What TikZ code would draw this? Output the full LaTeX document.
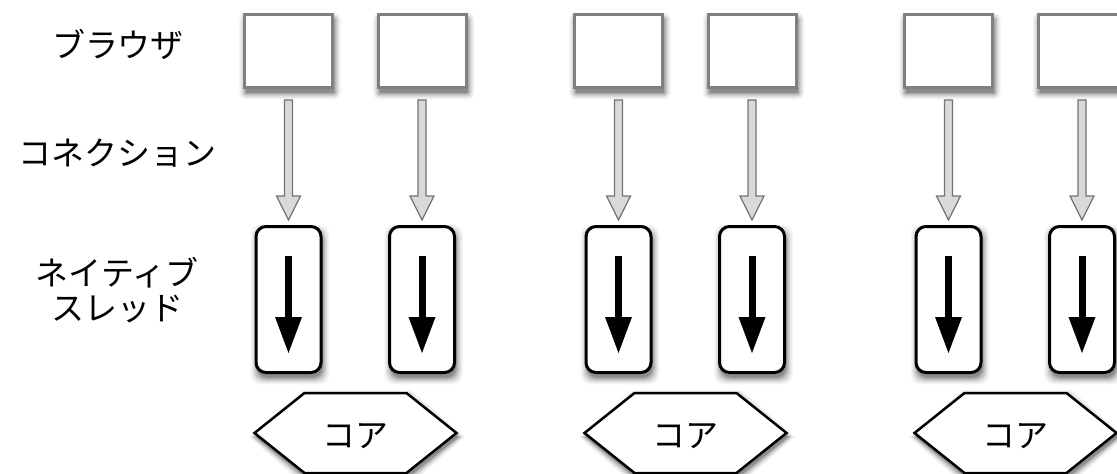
\documentclass[tikz,border=0pt]{standalone}
\usepackage{fontspec}
\setmainfont{Noto Sans CJK JP}
\usetikzlibrary{calc}
\pgfdeclarelayer{bg}
\pgfsetlayers{bg,main}
\begin{document}
\begin{tikzpicture}[x=1pt,y=-1pt,
  browser/.style={draw=black!50, line width=3pt, fill=white, minimum width=88pt, minimum height=73pt, inner sep=0pt, outer sep=0pt},
  thread/.style={draw=black, line width=3pt, fill=white, rounded corners=10pt, minimum width=65pt, minimum height=146pt, inner sep=0pt, outer sep=0pt},
  conn/.style={draw=black!55, line width=1.2pt, fill=black!15, line join=miter},
  flow/.style={line width=7pt, line cap=butt},
  flowhead/.style={fill=black},
  hex/.style={draw=black, line width=2.5pt, fill=white, line join=miter},
  lbl/.style={font=\fontsize{33}{35}\selectfont, align=center, inner sep=0pt},
  core/.style={font=\fontsize{33}{35}\selectfont, inner sep=0pt}
]
\useasboundingbox (0,0) rectangle (1117,474);

% row labels
\node[lbl] (lbrowser) at (118,44) {ブラウザ};
\node[lbl] (lconn) at (118,153) {コネクション};
\node[lbl] (lthread) at (117,290) {ネイティブ\\スレッド};

\foreach \g in {0,1,2}{
  % hexagon (core)
  \coordinate (h\g) at ({355.5+330*\g},433);
  \coordinate (hs\g) at ({357+330*\g},437);
  \foreach \e/\cc in {7/3,6/6,5/10,4/15,3/21,2/28,1/36,0/45}{
    \fill[black!\cc]
      ($(hs\g)+(-101-\e,0)$) -- ($(hs\g)+(-51-0.5*\e,-40-\e)$) -- ($(hs\g)+(51+0.5*\e,-40-\e)$)
      -- ($(hs\g)+(101+\e,0)$) -- ($(hs\g)+(51+0.5*\e,40+\e)$) -- ($(hs\g)+(-51-0.5*\e,40+\e)$) -- cycle;
  }
  \draw[hex] ($(h\g)+(-101,0)$) -- ($(h\g)+(-51,-40)$) -- ($(h\g)+(51,-40)$)
     -- ($(h\g)+(101,0)$) -- ($(h\g)+(51,40)$) -- ($(h\g)+(-51,40)$) -- cycle;
  \node[core] (c\g) at ($(h\g)+(0,3)$) {コア};
  \foreach \k/\cx in {1/288.5, 2/422}{
    \node[browser] (b\g\k) at ({\cx+330*\g},51) {};
    \node[thread] (t\g\k) at ({\cx+330*\g},299.5) {};
    \begin{pgfonlayer}{bg}
      \foreach \e/\cc in {7/3,6/6,5/10,4/15,3/21,2/28,1/36,0/45}{
        \fill[black!\cc, rounded corners=\e pt]
          ($(b\g\k.south west)+(1.5-\e,5+\e)$) rectangle ($(b\g\k.north east)+(1.5+\e,5-\e)$);
        \fill[black!\cc, rounded corners=10pt]
          ($(t\g\k.south west)+(1.5-\e,5+\e)$) rectangle ($(t\g\k.north east)+(1.5+\e,5-\e)$);
      }
    \end{pgfonlayer}
    % hollow connection arrow
    \draw[conn] ($(b\g\k.south)+(-4,12.5)$) -- ($(t\g\k.north)+(-4,-30.5)$)
      -- ($(t\g\k.north)+(-12,-30.5)$) -- ($(t\g\k.north)+(0,-6.5)$)
      -- ($(t\g\k.north)+(12,-30.5)$) -- ($(t\g\k.north)+(4,-30.5)$)
      -- ($(b\g\k.south)+(4,12.5)$) -- cycle;
    % thread flow arrow
    \coordinate (fs\g\k) at ($(t\g\k.north)+(0,29.5)$);
    \coordinate (fb\g\k) at ($(t\g\k.south)+(0,-54.5)$);
    \coordinate (fe\g\k) at ($(t\g\k.south)+(0,-19.5)$);
    \draw[flow] (fs\g\k) -- (fb\g\k);
    \fill[flowhead] ($(fb\g\k)+(-13.5,-1)$) -- ($(fb\g\k)+(13.5,-1)$) -- (fe\g\k) -- cycle;
  }
}
\end{tikzpicture}
\end{document}
